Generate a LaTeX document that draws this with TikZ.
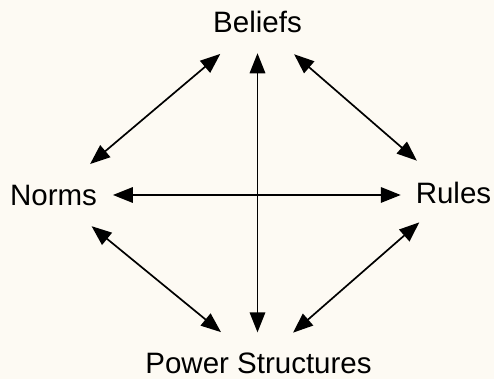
\documentclass[tikz,border=0pt]{standalone}
\usepackage{fontspec}
\setmainfont{Liberation Sans}
\usetikzlibrary{arrows.meta}
\definecolor{bgcream}{RGB}{253,250,243}
\begin{document}
\begin{tikzpicture}[x=1pt,y=-1pt,
  lbl/.style={inner sep=0pt,outer sep=0pt,anchor=base,font=\fontsize{29.5}{31}\selectfont},
  arr/.style={{Triangle[length=20pt,width=15.5pt]}-{Triangle[length=20pt,width=15.5pt]},line width=1.7pt}]
\fill[bgcream] (0,0) rectangle (494,379);
\useasboundingbox (0,0) rectangle (494,379);
\node[lbl] (B) at (257.5,33) {Beliefs};
\node[lbl] (N) at (53.5,205) {Norms};
\node[lbl] (R) at (453.5,203) {Rules};
\node[lbl] (P) at (258.5,373) {Power Structures};
\draw[arr,shorten <=20pt,shorten >=20pt] (B.south) -- (B.south |- P.north);
\draw[arr,shorten <=16pt,shorten >=15pt] (N.east) -- (N.east -| R.west);
\draw[arr,shorten <=32pt,shorten >=32pt] (B) -- (N);
\draw[arr,shorten <=32pt,shorten >=32pt] (B) -- (R);
\draw[arr,shorten <=33pt,shorten >=32pt] (N) -- (P);
\draw[arr,shorten <=29pt,shorten >=30pt] (R) -- (P);
\end{tikzpicture}
\end{document}
